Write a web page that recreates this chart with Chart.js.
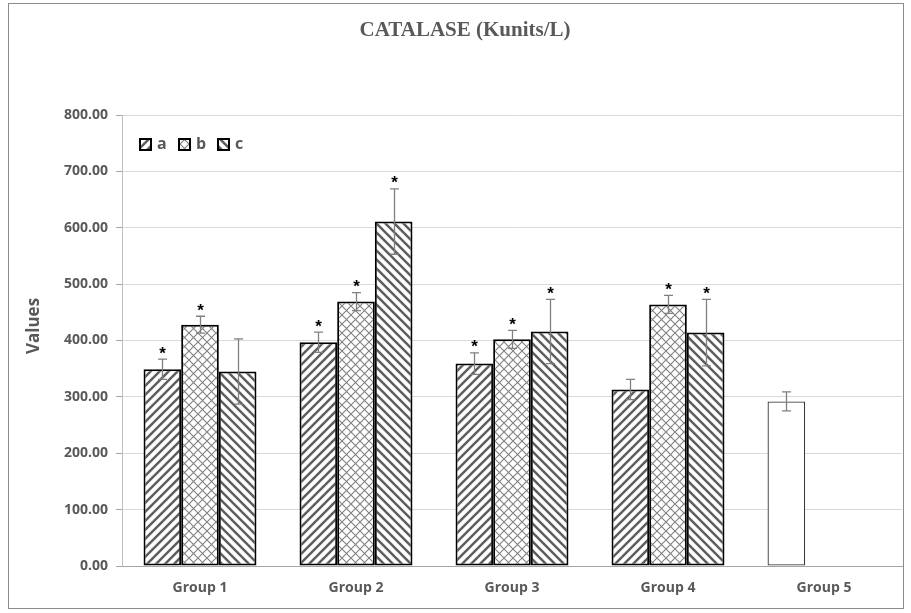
<!DOCTYPE html>
<html>
<head>
<meta charset="utf-8">
<script src="https://cdn.jsdelivr.net/npm/chart.js@4.4.0/dist/chart.umd.min.js"></script>
<style>
  html, body { margin: 0; padding: 0; background: #ffffff; }
  #wrap { width: 911px; height: 613px; }
</style>
</head>
<body>
<div id="wrap"><canvas id="chart" width="911" height="613"></canvas></div>
<script>
// Catalase activity per group, three sub-series with SD error bars
const categories = ['Group 1', 'Group 2', 'Group 3', 'Group 4', 'Group 5'];
const seriesNames = ['a', 'b', 'c'];
const valuesA = [349, 397, 359, 313, 292];
const valuesB = [428, 469, 402, 464, null];
const valuesC = [345, 611, 416, 414, null];
const errorsA = [18, 18, 19, 18, 17];
const errorsB = [15, 16, 16, 16, null];
const errorsC = [58, 58, 57, 59, null];
const starsA = [true, true, true, false, false];
const starsB = [true, true, true, true, false];
const starsC = [false, true, true, true, false];
// the control group is drawn as a plain, unpatterned bar
const plainBars = [false, false, false, false, true];
const yMin = 0, yMax = 800, yStep = 100;
const yAxisTitle = 'Values';

const TEXT = '#595959';

function stripePattern(dir, period, width, color) {
  const t = document.createElement('canvas');
  t.width = period; t.height = period;
  const g = t.getContext('2d');
  g.fillStyle = '#ffffff';
  g.fillRect(0, 0, period, period);
  g.strokeStyle = color;
  g.lineWidth = width;
  g.lineCap = 'square';
  for (let k = -1; k <= 1; k++) {
    g.beginPath();
    if (dir === 'up') {
      g.moveTo(k * period - 1, period + 1);
      g.lineTo(k * period + period + 1, -1);
    } else {
      g.moveTo(k * period - 1, -1);
      g.lineTo(k * period + period + 1, period + 1);
    }
    g.stroke();
  }
  return document.createElement('canvas').getContext('2d').createPattern(t, 'repeat');
}

function latticePattern(period, color) {
  const t = document.createElement('canvas');
  t.width = period; t.height = period;
  const g = t.getContext('2d');
  g.fillStyle = '#ffffff';
  g.fillRect(0, 0, period, period);
  g.strokeStyle = color;
  g.lineWidth = 1.1;
  g.beginPath();
  g.moveTo(0, 0); g.lineTo(period, period);
  g.moveTo(period, 0); g.lineTo(0, period);
  g.stroke();
  return document.createElement('canvas').getContext('2d').createPattern(t, 'repeat');
}

const patA = stripePattern('up', 9, 2.5, '#5e5e5e');
const patB = latticePattern(9, '#808080');
const patC = stripePattern('down', 9, 2.5, '#5e5e5e');
const patterns = [patA, patB, patC];
const errorSets = [errorsA, errorsB, errorsC];
const starSets = [starsA, starsB, starsC];

function barDataset(label, data, pat) {
  return {
    label: label,
    data: data,
    backgroundColor: (c) => (c.dataIndex !== undefined && plainBars[c.dataIndex]) ? '#ffffff' : pat,
    borderColor: (c) => (c.dataIndex !== undefined && plainBars[c.dataIndex]) ? '#3a3a3a' : '#000000',
    borderWidth: (c) => (c.dataIndex !== undefined && plainBars[c.dataIndex]) ? 1.3 : 2,
    borderSkipped: false
  };
}

// error bars with caps, plus significance asterisks
const errorBarPlugin = {
  id: 'errorBars',
  afterDatasetsDraw(chart) {
    const ctx = chart.ctx;
    const ys = chart.scales.y;
    chart.data.datasets.forEach((ds, i) => {
      const meta = chart.getDatasetMeta(i);
      meta.data.forEach((bar, j) => {
        const v = ds.data[j];
        const e = errorSets[i][j];
        if (v == null || e == null) return;
        const x = Math.round(bar.x) + 0.5;
        const top = ys.getPixelForValue(v + e);
        const bot = ys.getPixelForValue(v - e);
        const cap = 4.5;
        ctx.save();
        ctx.strokeStyle = '#808080';
        ctx.lineWidth = 1.3;
        ctx.beginPath();
        ctx.moveTo(x, top); ctx.lineTo(x, bot);
        ctx.moveTo(x - cap, top); ctx.lineTo(x + cap, top);
        ctx.moveTo(x - cap, bot); ctx.lineTo(x + cap, bot);
        ctx.stroke();
        if (starSets[i][j]) {
          ctx.fillStyle = '#000000';
          ctx.font = 'bold 17px "Liberation Sans", Arial, sans-serif';
          ctx.textAlign = 'center';
          ctx.textBaseline = 'alphabetic';
          ctx.fillText('*', x, top - 0.5);
        }
        ctx.restore();
      });
    });
  }
};

// white page, outer frame, y-axis title and the inline legend
const framePlugin = {
  id: 'frame',
  beforeDraw(chart) {
    const ctx = chart.ctx;
    ctx.save();
    ctx.fillStyle = '#ffffff';
    ctx.fillRect(0, 0, chart.width, chart.height);
    ctx.restore();
  },
  afterDraw(chart) {
    const ctx = chart.ctx;
    ctx.save();
    ctx.strokeStyle = '#8c8c8c';
    ctx.lineWidth = 1;
    ctx.strokeRect(8.5, 3.5, 895, 605);

    // y-axis title
    ctx.save();
    ctx.translate(34, 326);
    ctx.rotate(-Math.PI / 2);
    ctx.fillStyle = TEXT;
    ctx.font = 'bold 17px "Open Sans", sans-serif';
    ctx.textAlign = 'center';
    ctx.textBaseline = 'middle';
    ctx.fillText(yAxisTitle, 0, 0);
    ctx.restore();

    // legend
    const startX = [139, 178, 217];
    const boxY = 138, box = 13;
    ctx.font = 'bold 16px "Open Sans", sans-serif';
    ctx.textBaseline = 'middle';
    ctx.textAlign = 'left';
    seriesNames.forEach((name, i) => {
      const x = startX[i];
      ctx.fillStyle = patterns[i];
      ctx.fillRect(x, boxY, box, box);
      ctx.strokeStyle = '#000000';
      ctx.lineWidth = 2;
      ctx.strokeRect(x + 1, boxY + 1, box - 2, box - 2);
      ctx.fillStyle = TEXT;
      ctx.fillText(name, x + 18, boxY + box / 2);
    });
    ctx.restore();
  }
};

new Chart(document.getElementById('chart'), {
  type: 'bar',
  data: {
    labels: categories,
    datasets: [
      barDataset(seriesNames[0], valuesA, patA),
      barDataset(seriesNames[1], valuesB, patB),
      barDataset(seriesNames[2], valuesC, patC)
    ]
  },
  options: {
    responsive: false,
    animation: false,
    devicePixelRatio: 1,
    layout: { padding: { left: 28, right: 9, top: 0, bottom: 0 } },
    datasets: { bar: { categoryPercentage: 0.724, barPercentage: 1.0 } },
    plugins: {
      legend: { display: false },
      tooltip: { enabled: false },
      title: {
        display: true,
        text: 'CATALASE (Kunits/L)',
        color: TEXT,
        font: { family: '"Liberation Serif", "Times New Roman", serif', size: 21, weight: 'bold' },
        padding: { top: 18, bottom: 71.8 }
      }
    },
    scales: {
      x: {
        grid: { display: false, drawTicks: false },
        border: { display: true, color: '#a6a6a6', width: 1 },
        ticks: {
          color: TEXT,
          padding: 14,
          font: { family: '"Open Sans", sans-serif', size: 14, weight: 'bold' }
        },
        afterFit: (s) => { s.height = 47; }
      },
      y: {
        min: yMin,
        max: yMax,
        grid: { color: '#d9d9d9', lineWidth: 1, tickLength: 6, tickColor: '#a6a6a6' },
        border: { display: true, color: '#bfbfbf', width: 1 },
        ticks: {
          stepSize: yStep,
          color: TEXT,
          padding: 8,
          font: { family: '"Open Sans", sans-serif', size: 14, weight: 'bold' },
          callback: (v) => Number(v).toFixed(2)
        },
        afterFit: (s) => { s.width = 94; }
      }
    }
  },
  plugins: [errorBarPlugin, framePlugin]
});
</script>
</body>
</html>
